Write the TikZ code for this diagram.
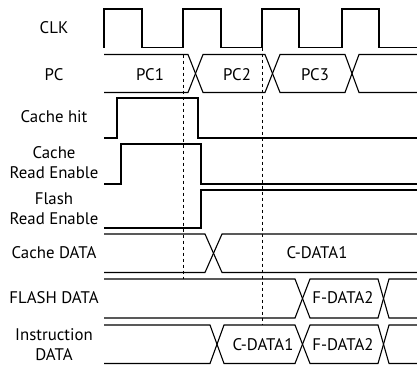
\documentclass[tikz,border=0pt]{standalone}
\usepackage{fontspec}
\setmainfont{PT Sans}
\tikzset{
  sig/.style={line width=1.1pt, line join=miter},
  marker/.style={line width=1pt, dash pattern={on 3.5pt off 2.5pt}},
  lbl/.style={inner sep=0.75pt, font=\fontsize{16.8}{20}\selectfont, align=center}
}
\begin{document}
\begin{tikzpicture}[x=1pt,y=1pt,yscale=-1]
			\useasboundingbox (0,0) rectangle (417,364);
			
			%Clock [id:clk]
			\draw [sig] (104,47.5) -- (104,9) -- (142,9) -- (142,47.5) -- (183,47.5) -- (183,9) -- (221,9) -- (221,47.5) -- (262,47.5) -- (262,9) -- (299,9) -- (299,47.5) -- (342,47.5) -- (342,9) -- (379,9) -- (379,47.5) -- (417,47.5) ;
			%Bus [id:pc]
			\draw [sig] (104,54.5) -- (188,54.5) -- (203,92.5) -- (265,92.5) -- (280,54.5) -- (345,54.5) -- (359,92.5) -- (417,92.5) ;
			\draw [sig] (104,92.5) -- (188,92.5) -- (203,54.5) -- (265,54.5) -- (280,92.5) -- (345,92.5) -- (359,54.5) -- (417,54.5) ;
			%Straight Lines [id:cachehit]
			\draw [sig] (104,138) -- (117,138) -- (117,98) -- (198,98) -- (198,138) -- (417,138) ;
			%Straight Lines [id:cacheren]
			\draw [sig] (104,184) -- (121,184) -- (121,144) -- (201,144) -- (201,184) -- (417,184) ;
			%Straight Lines [id:flashren]
			\draw [sig] (104,228) -- (201,228) -- (201,190) -- (417,190) ;
			%Bus [id:cachedata]
			\draw [sig] (104,234) -- (205,234) -- (222,272.5) -- (417,272.5) ;
			\draw [sig] (104,272.5) -- (205,272.5) -- (222,234) -- (417,234) ;
			%Bus [id:flashdata]
			\draw [sig] (104,279) -- (295,279) -- (310,318) -- (378,318) -- (389,279) -- (417,279) ;
			\draw [sig] (104,318) -- (295,318) -- (310,279) -- (378,279) -- (389,318) -- (417,318) ;
			%Bus [id:instrdata]
			\draw [sig] (104,325) -- (210,325) -- (224,363.5) -- (295,363.5) -- (310,325) -- (378,325) -- (389,363.5) -- (417,363.5) ;
			\draw [sig] (104,363.5) -- (210,363.5) -- (224,325) -- (295,325) -- (310,363.5) -- (378,363.5) -- (389,325) -- (417,325) ;
			
			%Straight Lines [id:dash1]
			\draw [marker] (183,54.5) -- (183,279) ;
			%Straight Lines [id:dash2]
			\draw [marker] (262,47.5) -- (262,325) ;
			
			% Text Node
			\node [lbl] (clklbl) at (54,28) {CLK};
			% Text Node
			\node [lbl] (pclbl) at (54,75) {PC};
			% Text Node
			\node [lbl] (hitlbl) at (54,117) {Cache hit};
			% Text Node
			\node [lbl] (crelbl) at (54,163) {Cache\\Read Enable};
			% Text Node
			\node [lbl] (frelbl) at (54,209) {Flash\\Read Enable};
			% Text Node
			\node [lbl] (cdlbl) at (54,253) {Cache DATA};
			% Text Node
			\node [lbl] (fdlbl) at (54,298) {FLASH DATA};
			% Text Node
			\node [lbl] (idlbl) at (54,345) {Instruction\\DATA};
			
			% Text Node
			\node [lbl] (pcone) at (150,75) {PC1};
			% Text Node
			\node [lbl] (pctwo) at (237,75) {PC2};
			% Text Node
			\node [lbl] (pcthree) at (315,75) {PC3};
			% Text Node
			\node [lbl] (cdone) at (317,253) {C-DATA1};
			% Text Node
			\node [lbl] (fdtwo) at (343,298) {F-DATA2};
			% Text Node
			\node [lbl] (idone) at (263,345) {C-DATA1};
			% Text Node
			\node [lbl] (idtwo) at (343,345) {F-DATA2};
			
		\end{tikzpicture}
\end{document}
